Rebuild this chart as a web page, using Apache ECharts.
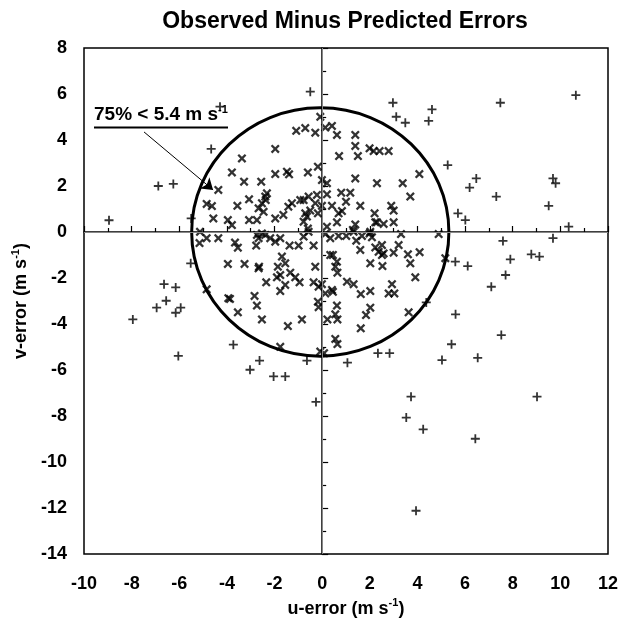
<!DOCTYPE html>
<html>
<head>
<meta charset="utf-8">
<script src="https://cdn.jsdelivr.net/npm/echarts@6/dist/echarts.min.js"></script>
<style>
html, body { margin: 0; padding: 0; background: #fff; }
#main { width: 628px; height: 628px; }
</style>
</head>
<body>
<div id="main"></div>
<script>
// errors inside the 5.4 m/s circle (drawn as x)
var insideU = [-1.09,-0.71,-0.29,-1.97,-3.37,-3.79,-3.28,-2.56,-1.97,-1.48,-1.39,-0.60,-0.18,-4.36,-4.85,-4.63,-4.57,-3.96,-3.79,-3.56,-3.07,-3.07,-2.74,-2.32,-2.39,-2.53,-2.67,-2.46,-2.37,-1.97,-1.63,-1.42,-1.27,-0.78,-0.57,-0.92,-0.71,-0.64,-0.78,-0.29,-0.18,-0.50,-0.22,
  -5.15,-5.13,-4.85,-4.36,-3.66,-3.54,-2.74,-2.67,-2.53,-2.39,-2.18,-1.97,-1.76,-2.77,-1.37,-0.99,-0.36,-0.78,-0.57,-0.60,-3.96,-3.26,-2.65,-2.67,-1.86,-1.55,-1.69,-1.34,-1.13,-0.95,-1.90,-1.76,-2.35,-1.55,-1.76,-0.29,-0.36,-0.15,-0.18,-0.15,-3.94,-3.87,-2.84,-2.74,-3.54,-2.53,-1.44,-0.85,-4.85,-1.76,-0.08,
  -0.08,0.13,0.41,0.62,1.39,1.39,1.50,0.71,1.99,2.16,2.41,2.79,4.08,1.39,2.30,3.38,-0.01,0.20,0.20,0.80,1.18,1.00,0.83,0.69,-0.01,0.41,1.60,3.70,2.90,3.00,2.20,2.23,2.30,2.58,3.00,1.39,1.29,0.62,0.20,
  4.89,5.17,0.13,0.34,0.69,1.01,1.32,1.43,1.67,1.99,2.09,2.02,3.31,1.60,2.23,2.51,2.37,2.58,2.51,3.21,3.00,3.60,4.09,0.34,0.45,0.62,0.55,0.64,2.02,2.53,3.70,3.91,-0.01,0.13,0.41,0.45,1.04,1.32,1.62,2.02,2.93,2.79,3.03,0.62,0.55,0.22,0.64,2.02,1.84,3.63,1.62,0.55,0.64,0.08];
var insideV = [4.40,4.52,4.32,3.61,3.20,2.59,2.19,2.19,2.52,2.62,2.51,2.59,2.84,1.83,1.22,1.13,0.59,0.52,0.30,1.14,1.42,0.52,0.52,1.68,1.54,1.25,1.03,0.88,1.39,0.59,0.74,1.10,1.25,1.39,1.54,1.39,0.81,0.67,0.45,1.25,0.81,0.93,1.61,
  -0.48,0.01,-0.27,-0.27,-0.46,-0.68,-0.13,-0.27,-0.06,-0.13,-0.27,-0.42,-0.27,-0.59,-0.59,-0.59,-0.59,-0.20,0.01,0.15,-1.39,-1.39,-1.51,-1.58,-1.51,-1.36,-1.07,-1.77,-1.97,-2.19,-1.97,-1.87,-2.19,-2.30,-2.57,-1.51,-2.19,-2.38,-3.03,-3.27,-2.88,-2.91,-2.78,-3.20,-3.49,-3.80,-4.09,-3.80,-2.49,-4.99,-5.20,
  5.01,4.54,4.61,4.22,4.22,3.74,3.30,3.30,3.64,3.52,3.52,3.52,2.52,2.33,2.12,2.12,2.26,2.12,1.64,1.71,1.71,1.32,0.91,0.81,1.14,1.14,1.14,1.54,1.14,0.93,0.81,0.42,0.42,0.35,0.42,0.33,0.09,0.42,0.23,
  -0.09,-1.14,-0.09,-0.27,-0.17,-0.17,0.01,-0.38,-0.17,-0.06,-0.23,0.01,-0.09,-0.78,-0.67,-0.57,-0.86,-0.93,-1.00,-0.57,-0.90,-0.97,-0.88,-1.00,-1.00,-1.29,-1.51,-1.77,-1.36,-1.48,-1.36,-1.97,-2.27,-2.67,-2.52,-2.60,-2.16,-2.27,-2.70,-2.57,-2.27,-2.67,-2.67,-3.20,-3.58,-3.80,-3.80,-3.29,-3.61,-3.49,-4.19,-4.65,-4.87,-5.27];

// errors outside the circle (drawn as +)
var outsideU = [-0.50,-4.29,-4.66,-6.88,-6.25,-8.95,-5.50,
  -5.52,-6.64,-6.15,-6.55,-6.95,-5.94,-6.15,-7.95,-6.04,-3.73,-2.63,-3.03,-2.04,-1.55,-0.64,
  2.97,4.61,3.11,3.49,4.47,7.48,5.27,6.47,6.19,7.31,5.70,6.01,9.69,9.80,9.51,10.35,10.65,
  7.59,9.69,5.59,6.11,7.90,8.78,9.12,7.70,7.10,4.37,5.60,7.52,5.43,2.34,2.83,1.06,5.03,6.53,3.73,9.02,
  -0.26,3.53,4.24,6.43,3.94];
var outsideV = [6.10,5.45,3.61,2.00,2.09,0.51,0.59,
  -1.36,-2.27,-2.41,-2.99,-3.29,-3.29,-3.51,-3.80,-5.39,-4.90,-5.59,-5.99,-6.28,-6.28,-5.59,
  5.62,5.33,5.01,4.75,4.83,5.62,2.91,2.33,1.93,1.54,0.81,0.52,2.33,2.12,1.14,0.23,5.95,
  -0.39,-0.27,-1.29,-1.48,-1.19,-0.97,-1.07,-1.87,-2.38,-3.06,-3.58,-4.48,-4.88,-5.27,-5.27,-5.68,-5.57,-5.47,-7.16,-7.16,
  -7.39,-8.07,-8.58,-8.99,-12.12];

var circleCenter = [-0.08, 0];
var circleRadius = [5.4];
var arrowFrom = [-7.48, 4.35];
var arrowTo = [-4.58, 1.83];

function zip(a, b) {
  var out = [];
  for (var i = 0; i < a.length; i++) out.push([a[i], b[i]]);
  return out;
}

var plusPath = 'path://M4,0H6V4H10V6H6V10H4V6H0V4H4Z';
var crossPath = 'path://M1.8,0L5,3.2L8.2,0L10,1.8L6.8,5L10,8.2L8.2,10L5,6.8L1.8,10L0,8.2L3.2,5L0,1.8Z';
var fontFam = '"Liberation Sans", Arial, sans-serif';

var chart = echarts.init(document.getElementById('main'));
var option = {
  backgroundColor: '#fff',
  animation: false,
  textStyle: { fontFamily: fontFam },
  title: {
    text: 'Observed Minus Predicted Errors',
    left: 340, top: 5, textAlign: 'center',
    textStyle: { fontSize: 23, fontWeight: 'bold', color: '#000', fontFamily: fontFam }
  },
  grid: { left: 84, right: 20, top: 48, bottom: 74, show: true, borderColor: '#000', borderWidth: 1.5 },
  xAxis: {
    type: 'value', min: -10, max: 12, interval: 2,
    axisLine: { lineStyle: { color: '#000', width: 1.5 } },
    axisTick: { inside: true, length: 6, lineStyle: { color: '#000', width: 1.2 } },
    minorTick: { show: true, splitNumber: 2, length: 4, lineStyle: { color: '#000', width: 1.2 } },
    splitLine: { show: false },
    axisLabel: { color: '#000', fontSize: 18, fontWeight: 'bold', margin: 21, fontFamily: fontFam },
    name: '{t|u-error (m s}{s|-1}{t|)}',
    nameLocation: 'middle', nameGap: 41,
    nameTextStyle: {
      rich: {
        t: { fontSize: 18, fontWeight: 'bold', color: '#000', lineHeight: 22, fontFamily: fontFam },
        s: { fontSize: 11, fontWeight: 'bold', color: '#000', lineHeight: 12, verticalAlign: 'top', fontFamily: fontFam }
      }
    }
  },
  yAxis: {
    type: 'value', min: -14, max: 8, interval: 2,
    axisLine: { lineStyle: { color: '#000', width: 1.5 } },
    axisTick: { inside: true, length: 6, lineStyle: { color: '#000', width: 1.2 } },
    minorTick: { show: true, splitNumber: 2, length: 4, lineStyle: { color: '#000', width: 1.2 } },
    splitLine: { show: false },
    axisLabel: { color: '#000', fontSize: 18, fontWeight: 'bold', margin: 17, fontFamily: fontFam },
    name: '{t|v-error (m s}{s|-1}{t|)}',
    nameLocation: 'middle', nameGap: 46, nameRotate: 90,
    nameTextStyle: {
      rich: {
        t: { fontSize: 18, fontWeight: 'bold', color: '#000', lineHeight: 22, fontFamily: fontFam },
        s: { fontSize: 11, fontWeight: 'bold', color: '#000', lineHeight: 12, verticalAlign: 'top', fontFamily: fontFam }
      }
    }
  },
  graphic: [
    {
      type: 'text', left: 94, top: 104, z: 10,
      style: {
        text: '{a|75% < 5.4 m s}{b|-1}',
        rich: {
          a: { fontSize: 19, fontWeight: 'bold', fill: '#000', lineHeight: 22, fontFamily: fontFam },
          b: { fontSize: 11, fontWeight: 'bold', fill: '#000', lineHeight: 12, verticalAlign: 'top', fontFamily: fontFam }
        }
      }
    },
    {
      type: 'line', z: 10,
      shape: { x1: 94, y1: 127.5, x2: 228, y2: 127.5 },
      style: { stroke: '#000', lineWidth: 2 }
    }
  ],
  series: [
    {
      name: 'zero', type: 'scatter', data: [], silent: true,
      markLine: {
        silent: true, symbol: 'none', label: { show: false },
        lineStyle: { color: '#888', width: 1, type: 'solid' },
        data: [{ xAxis: 0 }, { yAxis: 0 }]
      }
    },
    {
      name: 'circle', type: 'custom', silent: true, z: 3,
      data: [[circleCenter[0], circleCenter[1], circleRadius[0]]],
      renderItem: function (params, api) {
        var c = api.coord([api.value(0), api.value(1)]);
        var s = api.size([api.value(2), api.value(2)]);
        return {
          type: 'ellipse',
          shape: { cx: c[0], cy: c[1], rx: s[0], ry: s[1] },
          style: { fill: 'none', stroke: '#000', lineWidth: 3 }
        };
      }
    },
    {
      name: 'inside', type: 'scatter', z: 4,
      symbol: crossPath, symbolSize: 9,
      itemStyle: { color: '#000' },
      data: zip(insideU, insideV),
      markLine: {
        silent: true, symbol: ['none', 'arrow'], symbolSize: 11,
        label: { show: false },
        lineStyle: { color: '#000', width: 1, type: 'solid' },
        data: [[{ coord: arrowFrom }, { coord: arrowTo }]]
      }
    },
    {
      name: 'outside', type: 'scatter', z: 4,
      symbol: plusPath, symbolSize: 9,
      itemStyle: { color: '#000' },
      data: zip(outsideU, outsideV)
    }
  ]
};
chart.setOption(option);
</script>
</body>
</html>
